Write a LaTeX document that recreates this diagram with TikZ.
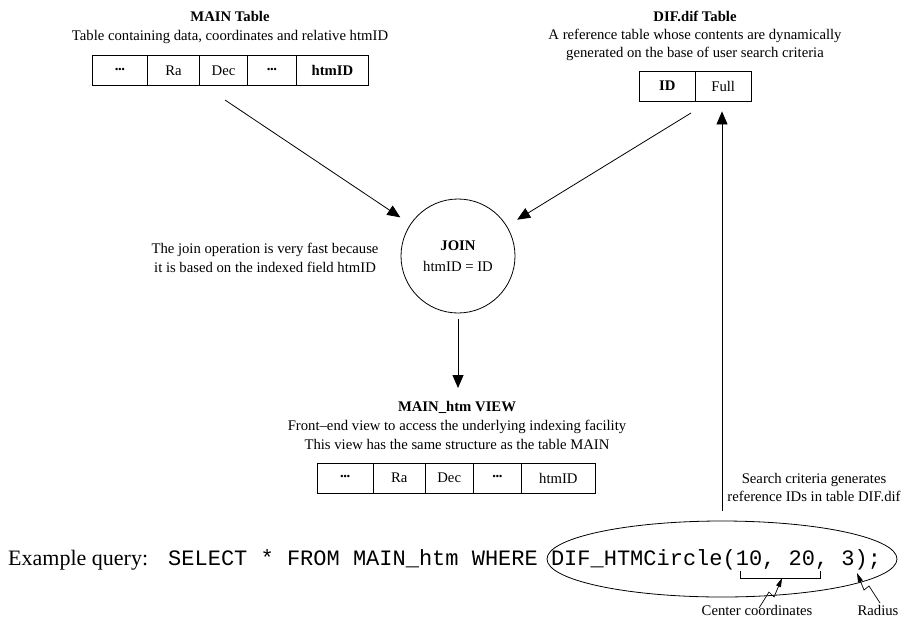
\documentclass[tikz,border=0pt]{standalone}
\usepackage{fontspec}
\setmainfont{Liberation Serif}
\setmonofont{Liberation Mono}
\usetikzlibrary{arrows.meta,shapes.geometric}
\newcommand\mydots{\raisebox{0.2em}{\bfseries.\kern-0.03em.\kern-0.03em.}}
\begin{document}
\begin{tikzpicture}[x=1pt,y=-1pt,
  every node/.style={font=\fontsize{14.7}{18}\selectfont, inner sep=0pt},
  cell/.style={draw, line width=0.8pt, minimum height=30pt},
  txt/.style={anchor=base},
  arr/.style={line width=0.8pt, -{Triangle[length=13pt,width=11pt]}},
  bolt/.style={line width=0.7pt, -{Triangle[length=9pt,width=5pt]}},
  thin/.style={line width=0.8pt}
]
\useasboundingbox (0,0) rectangle (901,621);

% MAIN table
\node[txt, font=\fontsize{14.7}{18}\selectfont\bfseries] (mt) at (230,21) {MAIN Table};
\node[txt] (md) at (230,40) {Table containing data, coordinates and relative htmID};
\node[cell, minimum width=55.4pt] (m1) at (120,70.5) {\mydots};
\node[cell, minimum width=51.6pt] (m2) at (173.5,70.5) {Ra};
\node[cell, minimum width=48.4pt] (m3) at (223.5,70.5) {Dec};
\node[cell, minimum width=48.3pt] (m4) at (271.9,70.5) {\mydots};
\node[cell, minimum width=72.7pt] (m5) at (332.4,70.5) {\textbf{htmID}};

% DIF table
\node[txt, font=\fontsize{14.7}{18}\selectfont\bfseries] (dt) at (695,21) {DIF.dif Table};
\node[txt] (dd1) at (695,39) {A reference table whose contents are dynamically};
\node[txt] (dd2) at (695,57) {generated on the base of user search criteria};
\node[cell, minimum width=56pt] (d1) at (667.3,86) {\textbf{ID}};
\node[cell, minimum width=55.7pt] (d2) at (723.2,86) {Full};

% JOIN
\node[circle, draw, thin, minimum size=114pt, align=center] (join) at (458,256)
  {\textbf{JOIN}\\[3pt]htmID = ID};
\node[txt] (jn1) at (265,253) {The join operation is very fast because};
\node[txt] (jn2) at (265,272) {it is based on the indexed field htmID};

\coordinate (ms) at (225,100);
\coordinate (ds) at (691,113);
\draw[arr, shorten >=12pt] (ms) -- (join);
\draw[arr, shorten >=12pt] (ds) -- (join);

% VIEW
\node[txt, font=\fontsize{14.7}{18}\selectfont\bfseries] (vt) at (457,411) {MAIN\_htm VIEW};
\node[txt] (vd1) at (457,430) {Front--end view to access the underlying indexing facility};
\node[txt] (vd2) at (457,449) {This view has the same structure as the table MAIN};
\node[cell, minimum width=56pt] (v1) at (345.3,478) {\mydots};
\node[cell, minimum width=51.7pt] (v2) at (399.2,478) {Ra};
\node[cell, minimum width=48.3pt] (v3) at (449.2,478) {Dec};
\node[cell, minimum width=48.4pt] (v4) at (497.5,478) {\mydots};
\node[cell, minimum width=73.3pt] (v5) at (558.4,478) {htmID};

\coordinate (vtip) at (458,388);
\draw[arr, shorten <=6pt] (join.south) -- (vtip);

% query
\node[anchor=base west, font=\fontsize{22}{26}\selectfont] (q1) at (8,565) {Example query:};
\node[anchor=base west, font=\fontsize{22}{26}\selectfont\ttfamily] (q2) at (168,565)
  {SELECT * FROM MAIN\_htm WHERE DIF\_HTMCircle(10, 20, 3);};
\node[ellipse, draw, thin, minimum width=350pt, minimum height=76pt] (ell) at (722,559) {};

\draw[arr, shorten <=10pt, shorten >=10pt] (ell.north) -- (ell.north |- d2.south);
\node[txt] (s1) at (814,483) {Search criteria generates};
\node[txt] (s2) at (814,501) {reference IDs in table DIF.dif};

% bracket and bolts
\coordinate (b1) at (740,571);
\coordinate (b2) at (740,578);
\coordinate (b3) at (820,578);
\coordinate (b4) at (820,571);
\draw[thin] (b1) -- (b2) -- (b3) -- (b4);

\node[txt] (cc) at (757,615) {Center coordinates};
\node[txt] (rr) at (878,615) {Radius};

\coordinate (c0) at (759,608);
\coordinate (c1) at (769,592);
\coordinate (c2) at (774,597);
\coordinate (c3) at (782,578);
\draw[bolt] (c0) -- (c1) -- (c2) -- (c3);

\coordinate (r0) at (880,603);
\coordinate (r1) at (869,586);
\coordinate (r2) at (864,590);
\coordinate (r3) at (857,573);
\draw[bolt] (r0) -- (r1) -- (r2) -- (r3);
\end{tikzpicture}
\end{document}
